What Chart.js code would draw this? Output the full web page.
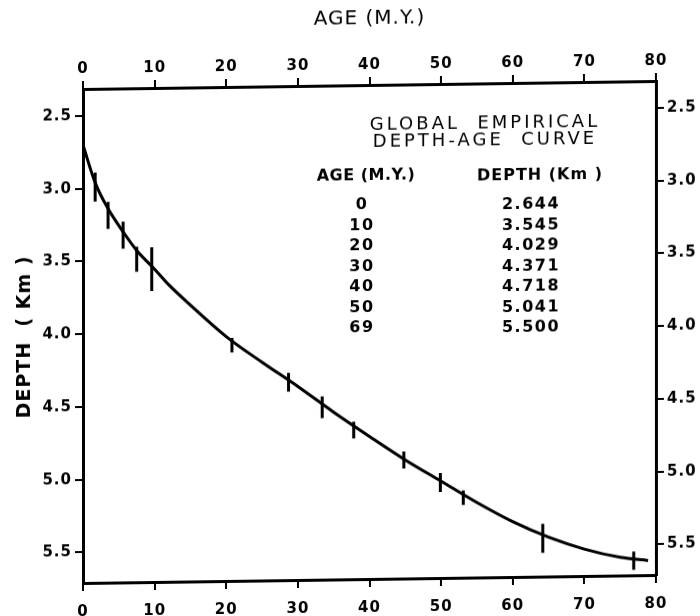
<!DOCTYPE html>
<html>
<head>
<meta charset="utf-8">
<title>Global empirical depth-age curve</title>
<script src="https://cdn.jsdelivr.net/npm/chart.js@4/dist/chart.umd.min.js"></script>
<style>
  html, body { margin: 0; padding: 0; background: #fff; }
  #wrap {
    width: 700px; height: 616px;
    /* the scanned figure leans a little: right side sits higher */
    transform-origin: 83px 336px;
    transform: skewY(-0.8deg);
  }
</style>
</head>
<body>
<div id="wrap"><canvas id="depthChart" width="700" height="616"></canvas></div>
<script>
// Curve (age in M.Y., depth in km)
const curveAge   = [0, 1.7, 3.5, 5.6, 7.5, 10, 12, 15, 20, 25, 30, 35, 40, 45, 50, 55, 60, 65, 70, 75, 78.9];
const curveDepth = [2.70, 2.96, 3.14, 3.30, 3.43, 3.56, 3.67, 3.81, 4.03, 4.21, 4.38, 4.56, 4.73, 4.895, 5.045, 5.195, 5.33, 5.44, 5.525, 5.585, 5.61];

// Vertical error bars: age, centre depth, half length (km)
const barAge   = [1.7, 3.5, 5.6, 7.5, 9.6, 20.8, 28.7, 33.4, 37.8, 44.8, 49.9, 53.1, 64.2, 76.9];
const barDepth = [2.99, 3.186, 3.324, 3.49, 3.56, 4.09, 4.35, 4.525, 4.685, 4.896, 5.054, 5.16, 5.447, 5.61];
const barHalf  = [0.10, 0.093, 0.093, 0.086, 0.15, 0.05, 0.065, 0.075, 0.058, 0.058, 0.065, 0.05, 0.10, 0.063];

// Tick labels
const xTicks = [0, 10, 20, 30, 40, 50, 60, 70, 80];
const yTicks = [2.5, 3.0, 3.5, 4.0, 4.5, 5.0, 5.5];

// Table printed inside the plot
const tableAge   = ['0', '10', '20', '30', '40', '50', '69'];
const tableDepth = ['2.644', '3.545', '4.029', '4.371', '4.718', '5.041', '5.500'];

Chart.defaults.font.family = '"DejaVu Sans", sans-serif';
Chart.defaults.color = '#000';

const ctx = document.getElementById('depthChart').getContext('2d');

// error bars as one line dataset broken by nulls
const barPoints = [];
barAge.forEach((a, i) => {
    barPoints.push({ x: a, y: barDepth[i] - barHalf[i] });
    barPoints.push({ x: a, y: barDepth[i] + barHalf[i] });
    barPoints.push({ x: a, y: null });
});

const tickFont = { size: 15, weight: 'bold' };
const gridOpts = { drawOnChartArea: false, drawTicks: true, tickLength: 8, color: '#000', lineWidth: 2 };
const borderOpts = { display: true, color: '#000', width: 3 };

function xAxis(position, height, extra) {
    return Object.assign({
        type: 'linear',
        position: position,
        min: 0,
        max: 80,
        afterBuildTicks: s => { s.ticks = xTicks.map(v => ({ value: v })); },
        ticks: { font: tickFont, maxRotation: 0, autoSkip: false, padding: position === 'top' ? 3 : 12, callback: v => String(v) },
        grid: gridOpts,
        border: borderOpts,
        afterFit: s => { s.height = height; }
    }, extra || {});
}

function yAxis(position, width, extra) {
    return Object.assign({
        type: 'linear',
        position: position,
        reverse: true,
        min: 2.315,
        max: 5.71,
        afterBuildTicks: s => { s.ticks = yTicks.map(v => ({ value: v })); },
        ticks: { font: tickFont, autoSkip: false, padding: 3, callback: v => v.toFixed(1) },
        grid: gridOpts,
        border: borderOpts,
        afterFit: s => { s.width = width; }
    }, extra || {});
}

// text block drawn on top of the plot
const notePlugin = {
    id: 'note',
    beforeDraw(chart) {
        chart.ctx.letterSpacing = '1px';
    },
    afterDraw(chart) {
        const c = chart.ctx;
        c.save();
        c.fillStyle = '#000';
        c.textAlign = 'center';
        c.textBaseline = 'middle';

        c.font = '18px "DejaVu Sans"';
        c.letterSpacing = '3px';
        c.fillText('GLOBAL  EMPIRICAL', 485, 129);
        c.fillText('DEPTH-AGE  CURVE', 485, 146);

        c.font = 'bold 16px "DejaVu Sans"';
        c.letterSpacing = '0.5px';
        c.fillText('AGE (M.Y.)', 366, 180);
        c.letterSpacing = '1px';
        c.fillText('DEPTH (Km )', 540, 182);

        c.letterSpacing = '1.5px';
        tableAge.forEach((t, i) => {
            c.fillText(t, 362, 209 + i * 20.5);
        });
        tableDepth.forEach((t, i) => {
            c.fillText(t, 531, 211 + i * 20.5);
        });
        c.restore();
    }
};

new Chart(ctx, {
    type: 'scatter',
    data: {
        datasets: [
            {
                label: 'Depth-age curve',
                data: curveAge.map((a, i) => ({ x: a, y: curveDepth[i] })),
                showLine: true,
                borderColor: '#000',
                borderWidth: 3,
                pointRadius: 0,
                cubicInterpolationMode: 'monotone',
                xAxisID: 'x',
                yAxisID: 'y'
            },
            {
                label: 'Error bars',
                data: barPoints,
                showLine: true,
                spanGaps: false,
                borderColor: '#000',
                borderWidth: 3,
                pointRadius: 0,
                xAxisID: 'x',
                yAxisID: 'y'
            }
        ]
    },
    options: {
        responsive: false,
        animation: false,
        layout: { padding: 0 },
        plugins: {
            legend: { display: false },
            tooltip: { enabled: false }
        },
        scales: {
            x: xAxis('bottom', 33),
            x2: xAxis('top', 89, {
                title: { display: true, text: 'AGE (M.Y.)', font: { size: 20 }, padding: { top: 11, bottom: 0 } }
            }),
            y: yAxis('left', 83, {
                title: { display: true, text: 'DEPTH  ( Km )', font: { size: 19, weight: 'bold' }, padding: { top: 14, bottom: 0 } }
            }),
            y2: yAxis('right', 44)
        }
    },
    plugins: [notePlugin]
});
</script>
</body>
</html>
